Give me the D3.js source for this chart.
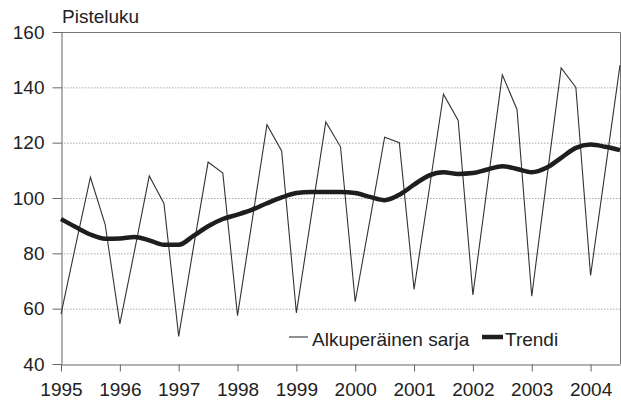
<!DOCTYPE HTML>
<html>
<head>
<meta charset="utf-8" />
<script src="https://d3js.org/d3.v7.min.js"></script>
</head>
<body id="body">
<svg width="621" height="401" id="chart"></svg>

<script>
    // quarters 1995 Q1 .. 2004 Q3
    var years = [1995, 1996, 1997, 1998, 1999, 2000, 2001, 2002, 2003, 2004];
    var yTicks = [40, 60, 80, 100, 120, 140, 160];
    var seriesNames = ["Alkuperäinen sarja", "Trendi"];

    var original = [
        58, 83, 107.5, 90.5,
        54.5, 81, 108, 98,
        50, 82, 113, 109,
        57.5, 92, 126.5, 117,
        58.5, 93, 127.5, 118.5,
        62.5, 92, 122, 120,
        67, 102, 137.5, 128,
        65, 105, 144.5, 132,
        64.5, 106, 147, 140,
        72, 110, 148
    ];
    var trend = [
        92.4, 89.5, 86.8, 85.3,
        85.4, 85.9, 84.7, 83.1,
        83.1, 86.3, 89.8, 92.4,
        94, 95.8, 98.1, 100.2,
        101.8, 102.2, 102.2, 102.2,
        101.8, 100.4, 99.2, 101.2,
        104.8, 108.1, 109.3, 108.7,
        109, 110.3, 111.5, 110.5,
        109.3, 110.9, 114.5, 118.1,
        119.3, 118.5, 117.3
    ];

    var svg = d3.select("#chart"),
        plotLeft = 61, plotRight = 620, plotTop = 32, plotBottom = 364;

    var x = d3.scaleLinear().domain([1995, 2004.5]).range([plotLeft, plotRight]);
    var y = d3.scaleLinear().domain([40, 160]).range([plotBottom, plotTop]);

    function t(i) { return 1995 + i * 0.25; }

    svg.append("rect").attr("width", 621).attr("height", 401).attr("fill", "#fff");

    // dotted grid
    svg.append("g").selectAll("line")
        .data(yTicks.slice(1, -1))
        .enter().append("line")
        .attr("x1", plotLeft).attr("x2", plotRight)
        .attr("y1", function(d) { return y(d) + 0.5; })
        .attr("y2", function(d) { return y(d) + 0.5; })
        .attr("stroke", "#aaa")
        .attr("stroke-width", 1)
        .attr("stroke-dasharray", "1.5,1.5");

    // frame top + right
    svg.append("path")
        .attr("d", "M" + plotLeft + "," + (y(160) + 0.5) + "H" + (plotRight + 0.5) + "V" + plotBottom)
        .attr("fill", "none").attr("stroke", "#777").attr("stroke-width", 1);

    svg.append("g")
        .attr("transform", "translate(" + (plotLeft + 0.5) + ",0)")
        .call(d3.axisLeft(y).tickValues(yTicks).tickSize(9).tickPadding(8).tickSizeOuter(0));

    svg.append("g")
        .attr("transform", "translate(0," + (plotBottom + 0.5) + ")")
        .call(d3.axisBottom(x).tickValues(years).tickFormat(d3.format("d"))
            .tickSize(7).tickPadding(11).tickSizeOuter(0));

    svg.selectAll(".domain").attr("stroke", "#666");
    svg.selectAll(".tick line").attr("stroke", "#666");
    svg.selectAll(".tick text")
        .attr("fill", "#222")
        .style("font-family", "'Liberation Sans', Arial, sans-serif")
        .style("font-size", "19px");

    svg.append("text")
        .attr("x", 62).attr("y", 23)
        .attr("fill", "#222")
        .style("font-family", "'Liberation Sans', Arial, sans-serif")
        .style("font-size", "19px")
        .text("Pisteluku");

    var line = d3.line()
        .x(function(d, i) { return x(t(i)); })
        .y(function(d) { return y(d); });

    svg.append("path")
        .datum(original)
        .attr("d", line)
        .attr("fill", "none")
        .attr("stroke", "#333")
        .attr("stroke-width", 1.1)
        .attr("stroke-linejoin", "miter");

    svg.append("path")
        .datum(trend)
        .attr("d", line.curve(d3.curveMonotoneX))
        .attr("fill", "none")
        .attr("stroke", "#1e1e1e")
        .attr("stroke-width", 4.5)
        .attr("stroke-linecap", "butt");

    // legend
    var legend = svg.append("g")
        .style("font-family", "'Liberation Sans', Arial, sans-serif")
        .style("font-size", "19px")
        .attr("fill", "#222");
    legend.append("line").attr("x1", 289).attr("x2", 308).attr("y1", 337).attr("y2", 337)
        .attr("stroke", "#333").attr("stroke-width", 1.1);
    legend.append("text").attr("x", 312).attr("y", 345.5).text(seriesNames[0]);
    legend.append("line").attr("x1", 482).attr("x2", 503).attr("y1", 337).attr("y2", 337)
        .attr("stroke", "#1e1e1e").attr("stroke-width", 4.5);
    legend.append("text").attr("x", 505).attr("y", 345.5).text(seriesNames[1]);
</script>
</body>
<style>
#body{
    margin: 0;
    background: #fff;
}
</style>
</html>
